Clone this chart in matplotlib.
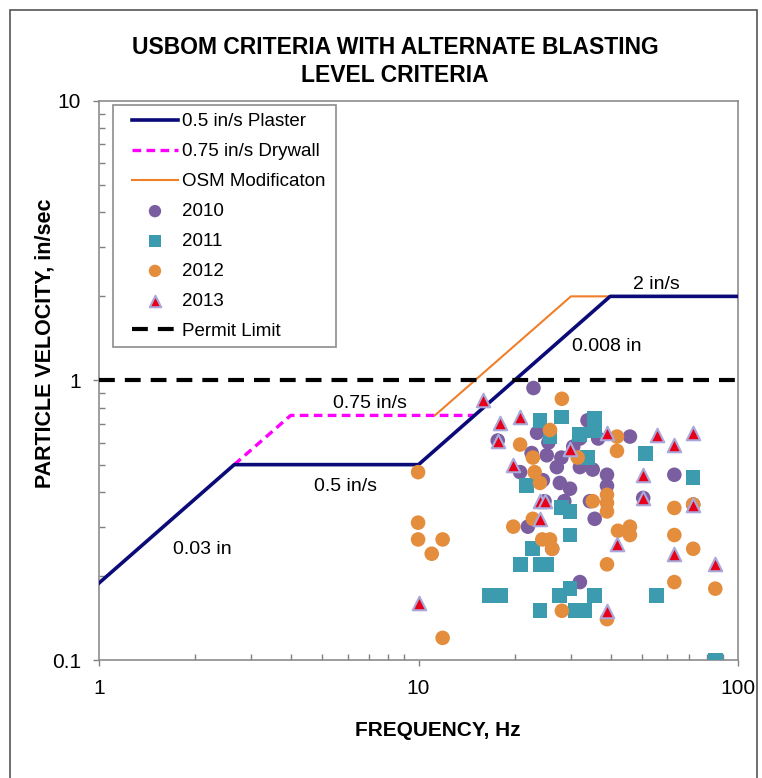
import matplotlib
matplotlib.use("Agg")
import matplotlib.pyplot as plt
from matplotlib.patches import Rectangle
from matplotlib.ticker import LogLocator, NullFormatter, FixedLocator, FixedFormatter

plt.rcParams['font.family'] = ['Liberation Sans', 'DejaVu Sans']

# ---- criteria lines ----
plaster_f = [1, 2.65, 10, 39.8, 100]
plaster_v = [0.1885, 0.5, 0.5, 2.0, 2.0]
drywall_f = [2.65, 3.98, 14.9]
drywall_v = [0.5, 0.75, 0.75]
osm_f = [11.25, 30, 40]
osm_v = [0.75, 2.0, 2.0]
permit_f = [1, 100]
permit_v = [1, 1]

# ---- monitoring data ----
f2010 = [22.9, 17.7, 23.5, 25.2, 28.0, 22.6, 20.8, 24.5, 27.7, 29.8, 33.8, 32.0, 27.1,
         32.0, 35.1, 38.9, 38.9, 22.0, 26.2, 32.0, 35.6, 45.9, 63.2, 50.5, 72.4, 24.8,
         28.6, 34.4, 25.5, 30.5, 36.5]
v2010 = [0.94, 0.61, 0.65, 0.54, 0.53, 0.55, 0.47, 0.44, 0.43, 0.41, 0.72, 0.62, 0.49,
         0.49, 0.48, 0.46, 0.42, 0.30, 0.25, 0.19, 0.32, 0.63, 0.46, 0.38, 0.36, 0.37,
         0.37, 0.37, 0.60, 0.58, 0.62]

f2011 = [24.0, 28.0, 35.6, 35.6, 25.8, 32.0, 33.9, 21.8, 28.1, 29.8, 29.8, 22.8, 20.8,
         24.0, 25.2, 16.7, 18.0, 24.0, 27.7, 29.8, 30.9, 35.6, 55.6, 51.2, 72.3, 84.9, 33.2]
v2011 = [0.72, 0.74, 0.73, 0.66, 0.63, 0.64, 0.53, 0.42, 0.35, 0.34, 0.28, 0.25, 0.22,
         0.22, 0.22, 0.17, 0.17, 0.15, 0.17, 0.18, 0.15, 0.17, 0.17, 0.55, 0.45, 0.10, 0.15]

f2012 = [9.97, 9.97, 9.97, 11.9, 11.0, 11.9, 28.1, 25.8, 20.8, 22.8, 23.1, 24.0, 31.5,
         41.8, 41.8, 38.9, 35.1, 38.9, 38.9, 63.2, 72.4, 22.8, 19.8, 24.4, 25.8, 26.2,
         38.9, 28.1, 42.1, 45.9, 45.9, 38.9, 63.2, 72.4, 63.2, 84.9]
v2012 = [0.47, 0.31, 0.27, 0.27, 0.24, 0.12, 0.86, 0.665, 0.59, 0.53, 0.47, 0.43, 0.53,
         0.63, 0.56, 0.39, 0.37, 0.365, 0.34, 0.35, 0.36, 0.32, 0.30, 0.27, 0.27, 0.25,
         0.22, 0.15, 0.29, 0.30, 0.28, 0.14, 0.28, 0.25, 0.19, 0.18]

f2013 = [15.9, 18.0, 20.8, 17.7, 19.8, 24.0, 24.9, 24.0, 29.8, 38.9, 55.6, 63.2, 72.4,
         50.5, 50.5, 72.4, 41.8, 63.2, 84.9, 38.9, 10.0]
v2013 = [0.85, 0.705, 0.74, 0.61, 0.50, 0.37, 0.37, 0.32, 0.57, 0.65, 0.64, 0.59, 0.65,
         0.46, 0.38, 0.36, 0.26, 0.24, 0.22, 0.15, 0.16]

x_ticks = [1, 10, 100]
x_tick_labels = ['1', '10', '100']
y_ticks = [0.1, 1, 10]
y_tick_labels = ['0.1', '1', '10']

W, H = 762, 778
fig = plt.figure(figsize=(W/100, H/100), dpi=100)
ax = fig.add_axes([99/W, 1-660/H, 639/W, 559/H])

# outer frame of the figure
fig.patches.append(Rectangle((10/W, -0.05), 747/W, 1.05 - 10/H, transform=fig.transFigure,
                             fill=False, edgecolor='#555555', linewidth=1.2))

ax.plot(plaster_f, plaster_v, color='#0a0a78', lw=2.6, label='0.5 in/s Plaster', zorder=3)
ax.plot(drywall_f, drywall_v, color='#ff00ff', lw=2.4, ls=(0, (2.6, 1.6)), label='0.75 in/s Drywall', zorder=2)
ax.plot(osm_f, osm_v, color='#f07f2a', lw=1.5, label='OSM Modificaton', zorder=2)

ax.scatter(f2010, v2010, s=110, marker='o', color='#7b5ea0', edgecolors='none', label='2010', zorder=4)
ax.scatter(f2011, v2011, s=115, marker='s', color='#3d9bb0', edgecolors='none', label='2011', zorder=5)
ax.scatter(f2012, v2012, s=110, marker='o', color='#e38d3d', edgecolors='none', label='2012', zorder=6)
ax.scatter(f2013, v2013, s=95, marker='^', color='#e8001a', edgecolors='#a9a9dc', linewidths=1.5,
           label='2013', zorder=7)

ax.plot(permit_f, permit_v, color='black', lw=3, ls=(0, (3.8, 2.4)), label='Permit Limit', zorder=3)

ax.set_xscale('log')
ax.set_yscale('log')
ax.set_xlim(1, 100)
ax.set_ylim(0.1, 10)

ax.xaxis.set_major_locator(FixedLocator(x_ticks))
ax.xaxis.set_major_formatter(FixedFormatter(x_tick_labels))
ax.yaxis.set_major_locator(FixedLocator(y_ticks))
ax.yaxis.set_major_formatter(FixedFormatter(y_tick_labels))
ax.xaxis.set_minor_locator(LogLocator(base=10, subs=range(2, 10)))
ax.yaxis.set_minor_locator(LogLocator(base=10, subs=range(2, 10)))
ax.xaxis.set_minor_formatter(NullFormatter())
ax.yaxis.set_minor_formatter(NullFormatter())
ax.tick_params(which='major', direction='out', length=4, width=1, color='#808080',
               labelsize=15)
ax.tick_params(axis='y', which='major', pad=9)
ax.tick_params(axis='x', which='major', pad=10)
ax.tick_params(which='minor', direction='in', length=4, width=1, color='#808080')

for sp in ax.spines.values():
    sp.set_color('#8c8c8c')
    sp.set_linewidth(1.2)

fig.text(438/W, 1-731/H, 'FREQUENCY, Hz', fontsize=15, fontweight='bold', ha='center', va='center')
fig.text(45/W, 1-343/H, 'PARTICLE VELOCITY, in/sec', fontsize=15.5, fontweight='bold',
         ha='center', va='center', rotation=90)

fig.text(395/W, 1-61.5/H, 'USBOM CRITERIA WITH ALTERNATE BLASTING\nLEVEL CRITERIA',
         ha='center', va='center', fontsize=16.5, fontweight='bold', linespacing=1.33)

txt = dict(fontsize=14, ha='center', va='center', zorder=8)
ax.text(7.05, 0.824, '0.75 in/s', **txt)
ax.text(5.89, 0.416, '0.5 in/s', **txt)
ax.text(2.10, 0.249, '0.03 in', **txt)
ax.text(38.9, 1.318, '0.008 in', **txt)
ax.text(55.7, 2.21, '2 in/s', **txt)

# legend frame drawn separately, entries placed inside it
ax.add_patch(Rectangle((14/639, (660-347)/559), 223/639, 242/559, transform=ax.transAxes,
                       facecolor='white', edgecolor='#8c8c8c', linewidth=1.2, zorder=9))
leg = ax.legend(loc='upper left', bbox_to_anchor=((132-99)/639, (660-113.3)/559), fontsize=13.5,
                labelspacing=0.68, handlelength=2.45, handletextpad=0.2, borderpad=0,
                frameon=False, markerscale=0.85, scatterpoints=1, borderaxespad=0)
leg.set_zorder(10)

fig.savefig('out.png', dpi=100)
